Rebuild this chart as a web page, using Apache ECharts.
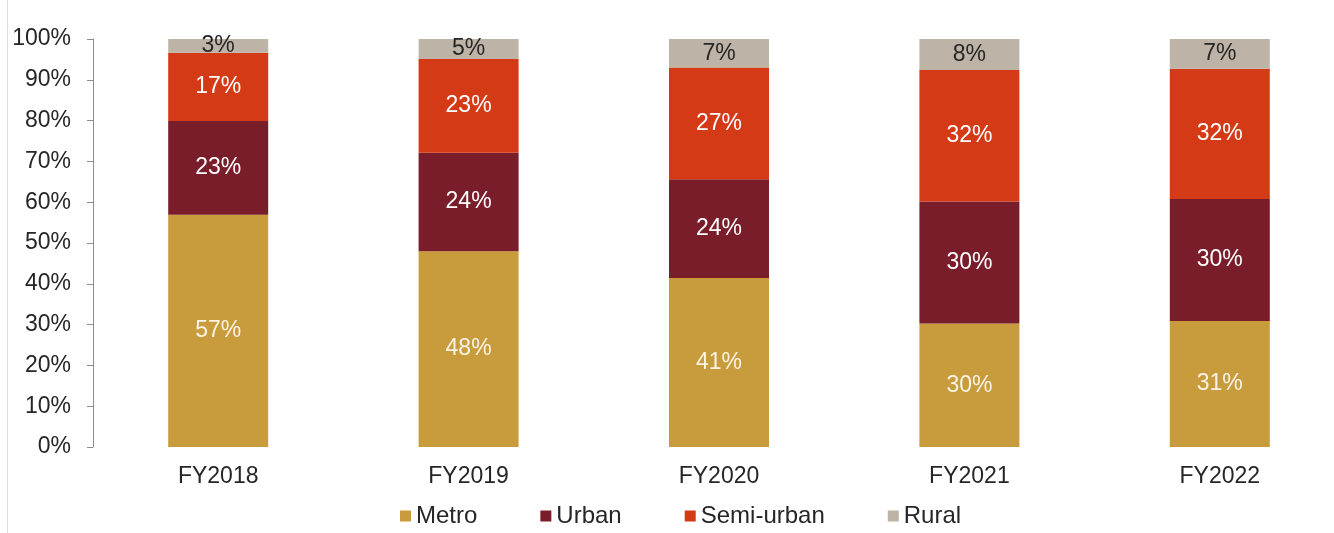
<!DOCTYPE html>
<html>
<head>
<meta charset="utf-8">
<script src="https://cdn.jsdelivr.net/npm/echarts@6/dist/echarts.min.js"></script>
<style>
  html, body { margin: 0; padding: 0; background: #fff; }
  #chart_bar { width: 1334px; height: 533px; }
</style>
</head>
<body>
<div id="chart_bar"></div>
<script>
// categories and shares (%)
const years = ['FY2018', 'FY2019', 'FY2020', 'FY2021', 'FY2022']
const metro = [56.9, 48.0, 41.4, 30.3, 30.9]
const urban = [23.0, 24.1, 24.2, 29.9, 29.9]
const semiUrban = [16.7, 23.0, 27.4, 32.2, 31.9]
const rural = [3.4, 4.9, 7.0, 7.6, 7.3]
const yTicks = [0, 10, 20, 30, 40, 50, 60, 70, 80, 90, 100]

const fontFamily = '"Liberation Sans", Arial, sans-serif'

function seg(name, data, color, labelColor) {
  return {
    name: name,
    type: 'bar',
    stack: 'share',
    data: data,
    barWidth: 100,
    itemStyle: { color: color },
    label: {
      show: true,
      position: 'inside',
      color: labelColor,
      fontSize: 23,
      fontFamily: fontFamily,
      formatter: p => Math.round(p.value) + '%'
    }
  }
}

const chart = echarts.init(document.getElementById('chart_bar'))
chart.setOption({
  animation: false,
  textStyle: { fontFamily: fontFamily },
  grid: { left: 93, top: 39, width: 1252, height: 408, outerBoundsMode: 'none' },
  legend: {
    left: 395,
    top: 499,
    itemWidth: 11,
    itemHeight: 11,
    itemGap: 63,
    icon: 'rect',
    textStyle: { fontSize: 24, color: '#262626', padding: [0, 0, 0, 0] },
    data: ['Metro', 'Urban', 'Semi-urban', 'Rural']
  },
  graphic: [{
    type: 'line',
    shape: { x1: 7.5, y1: 0, x2: 7.5, y2: 533 },
    style: { stroke: '#dcdcdc', lineWidth: 1 }
  }],
  xAxis: {
    type: 'category',
    data: years,
    axisLine: { show: false },
    axisTick: { show: false },
    axisLabel: { fontSize: 23, color: '#262626', margin: 18 }
  },
  yAxis: {
    type: 'value',
    min: yTicks[0],
    max: yTicks[yTicks.length - 1],
    interval: 10,
    splitLine: { show: false },
    axisLine: { show: true, lineStyle: { color: '#8c8c8c' } },
    axisTick: { show: true, length: 6, lineStyle: { color: '#8c8c8c' } },
    axisLabel: { fontSize: 23, color: '#262626', margin: 22, formatter: '{value}%' }
  },
  series: [
    seg('Metro', metro, '#C89B3C', '#FBF3E4'),
    seg('Urban', urban, '#7A1D2A', '#FFFFFF'),
    seg('Semi-urban', semiUrban, '#D53A16', '#FFFFFF'),
    seg('Rural', rural, '#BDB4A7', '#262626')
  ]
})
</script>
</body>
</html>
